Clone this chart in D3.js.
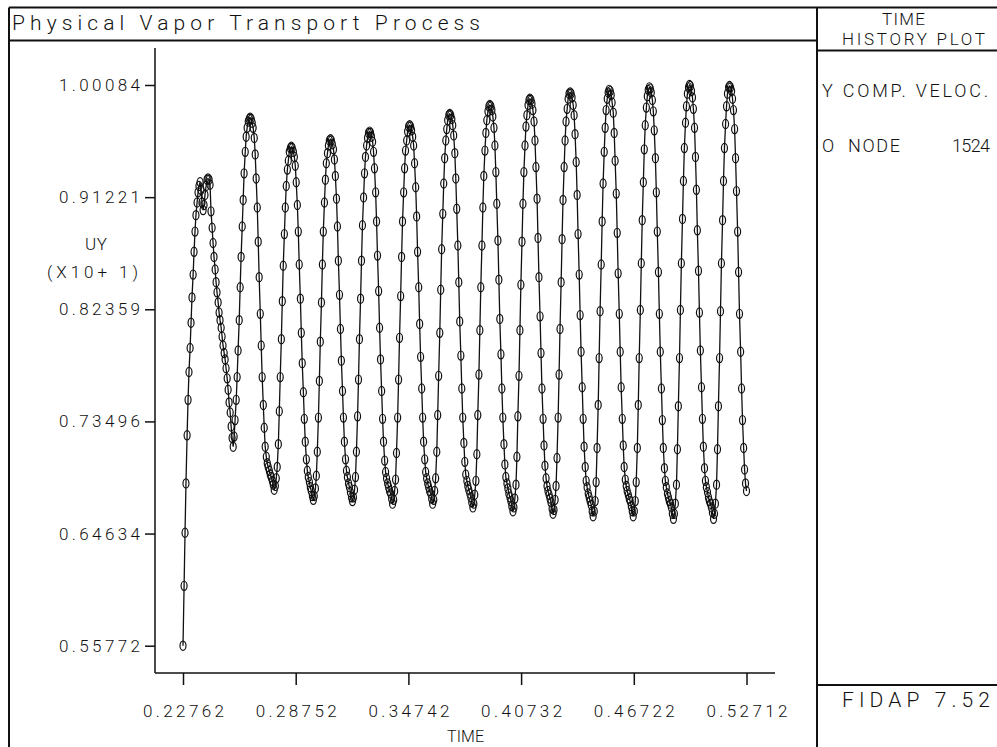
<!DOCTYPE html>
<html>
<head>
<meta charset="utf-8">
<script src="https://cdn.jsdelivr.net/npm/d3@7"></script>
<style>
  html, body { margin: 0; padding: 0; background: #fff; }
  svg { display: block; }
</style>
</head>
<body>
<div id="chart"></div>
<script>
// ---- data ----
const TITLE = "Physical Vapor Transport Process";
const Y_TICKS = [0.55772, 0.64634, 0.73496, 0.82359, 0.91221, 1.00084];
const Y_TICK_LABELS = ["0.55772", "0.64634", "0.73496", "0.82359", "0.91221", "1.00084"];
const X_TICKS = [0.22762, 0.28752, 0.34742, 0.40732, 0.46722, 0.52712];
const X_TICK_LABELS = ["0.22762", "0.28752", "0.34742", "0.40732", "0.46722", "0.52712"];

// sample times
const TIME = [
  0.22762,0.2282,0.2287,0.2292,0.2298,0.2303,0.2308,0.2314,0.2319,0.2324,
  0.2330,0.2335,0.2340,0.2345,0.2351,0.2356,0.2361,0.2367,0.2372,0.2377,
  0.2383,0.2388,0.2393,0.2399,0.2404,0.2409,0.2415,0.2420,0.2425,0.2431,
  0.2436,0.2441,0.2447,0.2452,0.2457,0.2463,0.2468,0.2473,0.2479,0.2484,
  0.2489,0.2495,0.2500,0.2505,0.2511,0.2516,0.2521,0.2527,0.2532,0.2537,
  0.2543,0.2548,0.2553,0.2559,0.2564,0.2569,0.2575,0.2580,0.2585,0.2591,
  0.2596,0.2601,0.2607,0.2612,0.2617,0.2623,0.2628,0.2633,0.2639,0.2644,
  0.2649,0.2655,0.2660,0.2665,0.2671,0.2676,0.2681,0.2687,0.2692,0.2697,
  0.2703,0.2708,0.2713,0.2719,0.2724,0.2729,0.2735,0.2740,0.2745,0.2751,
  0.2756,0.2761,0.2767,0.2772,0.2777,0.2783,0.2788,0.2793,0.2799,0.2804,
  0.2809,0.2815,0.2820,0.2825,0.2831,0.2836,0.2841,0.2847,0.2852,0.2857,
  0.2863,0.2868,0.2873,0.2878,0.2884,0.2889,0.2894,0.2900,0.2905,0.2910,
  0.2916,0.2921,0.2926,0.2932,0.2937,0.2942,0.2948,0.2953,0.2958,0.2964,
  0.2969,0.2974,0.2980,0.2985,0.2990,0.2996,0.3001,0.3006,0.3012,0.3017,
  0.3022,0.3028,0.3033,0.3038,0.3044,0.3049,0.3054,0.3060,0.3065,0.3070,
  0.3076,0.3081,0.3086,0.3092,0.3097,0.3102,0.3108,0.3113,0.3118,0.3124,
  0.3129,0.3134,0.3140,0.3145,0.3150,0.3156,0.3161,0.3166,0.3172,0.3177,
  0.3182,0.3188,0.3193,0.3198,0.3204,0.3209,0.3214,0.3220,0.3225,0.3230,
  0.3236,0.3241,0.3246,0.3252,0.3257,0.3262,0.3268,0.3273,0.3278,0.3284,
  0.3289,0.3294,0.3300,0.3305,0.3310,0.3316,0.3321,0.3326,0.3332,0.3337,
  0.3342,0.3348,0.3353,0.3358,0.3364,0.3369,0.3374,0.3380,0.3385,0.3390,
  0.3396,0.3401,0.3406,0.3411,0.3417,0.3422,0.3427,0.3433,0.3438,0.3443,
  0.3449,0.3454,0.3459,0.3465,0.3470,0.3475,0.3481,0.3486,0.3491,0.3497,
  0.3502,0.3507,0.3513,0.3518,0.3523,0.3529,0.3534,0.3539,0.3545,0.3550,
  0.3555,0.3561,0.3566,0.3571,0.3577,0.3582,0.3587,0.3593,0.3598,0.3603,
  0.3609,0.3614,0.3619,0.3625,0.3630,0.3635,0.3641,0.3646,0.3651,0.3657,
  0.3662,0.3667,0.3673,0.3678,0.3683,0.3689,0.3694,0.3699,0.3705,0.3710,
  0.3715,0.3721,0.3726,0.3731,0.3737,0.3742,0.3747,0.3753,0.3758,0.3763,
  0.3769,0.3774,0.3779,0.3785,0.3790,0.3795,0.3801,0.3806,0.3811,0.3817,
  0.3822,0.3827,0.3833,0.3838,0.3843,0.3849,0.3854,0.3859,0.3865,0.3870,
  0.3875,0.3881,0.3886,0.3891,0.3897,0.3902,0.3907,0.3913,0.3918,0.3923,
  0.3929,0.3934,0.3939,0.3944,0.3950,0.3955,0.3960,0.3966,0.3971,0.3976,
  0.3982,0.3987,0.3992,0.3998,0.4003,0.4008,0.4014,0.4019,0.4024,0.4030,
  0.4035,0.4040,0.4046,0.4051,0.4056,0.4062,0.4067,0.4072,0.4078,0.4083,
  0.4088,0.4094,0.4099,0.4104,0.4110,0.4115,0.4120,0.4126,0.4131,0.4136,
  0.4142,0.4147,0.4152,0.4158,0.4163,0.4168,0.4174,0.4179,0.4184,0.4190,
  0.4195,0.4200,0.4206,0.4211,0.4216,0.4222,0.4227,0.4232,0.4238,0.4243,
  0.4248,0.4254,0.4259,0.4264,0.4270,0.4275,0.4280,0.4286,0.4291,0.4296,
  0.4302,0.4307,0.4312,0.4318,0.4323,0.4328,0.4334,0.4339,0.4344,0.4350,
  0.4355,0.4360,0.4366,0.4371,0.4376,0.4382,0.4387,0.4392,0.4398,0.4403,
  0.4408,0.4414,0.4419,0.4424,0.4430,0.4435,0.4440,0.4446,0.4451,0.4456,
  0.4462,0.4467,0.4472,0.4477,0.4483,0.4488,0.4493,0.4499,0.4504,0.4509,
  0.4515,0.4520,0.4525,0.4531,0.4536,0.4541,0.4547,0.4552,0.4557,0.4563,
  0.4568,0.4573,0.4579,0.4584,0.4589,0.4595,0.4600,0.4605,0.4611,0.4616,
  0.4621,0.4627,0.4632,0.4637,0.4643,0.4648,0.4653,0.4659,0.4664,0.4669,
  0.4675,0.4680,0.4685,0.4691,0.4696,0.4701,0.4707,0.4712,0.4717,0.4723,
  0.4728,0.4733,0.4739,0.4744,0.4749,0.4755,0.4760,0.4765,0.4771,0.4776,
  0.4781,0.4787,0.4792,0.4797,0.4803,0.4808,0.4813,0.4819,0.4824,0.4829,
  0.4835,0.4840,0.4845,0.4851,0.4856,0.4861,0.4867,0.4872,0.4877,0.4883,
  0.4888,0.4893,0.4899,0.4904,0.4909,0.4915,0.4920,0.4925,0.4931,0.4936,
  0.4941,0.4947,0.4952,0.4957,0.4963,0.4968,0.4973,0.4979,0.4984,0.4989,
  0.4995,0.5000,0.5005,0.5010,0.5016,0.5021,0.5026,0.5032,0.5037,0.5042,
  0.5048,0.5053,0.5058,0.5064,0.5069,0.5074,0.5080,0.5085,0.5090,0.5096,
  0.5101,0.5106,0.5112,0.5117,0.5122,0.5128,0.5133,0.5138,0.5144,0.5149,
  0.5154,0.5160,0.5165,0.5170,0.5176,0.5181,0.5186,0.5192,0.5197,0.5202,
  0.5208,0.5213,0.5218,0.5224,0.5229,0.5234,0.5240,0.5245,0.5250,0.5256,
  0.5261,0.5266,0.52712
];

// UY (x10) at node 1524, one line per swing
const UY = [
  // start-up transient, first double peak, first dip
  0.55772,0.605,0.647,0.686,0.724,0.752,0.774,0.793,0.813,0.833,
  0.851,0.869,0.885,0.898,0.908,0.916,0.921,0.924,0.918,0.908,
  0.902,0.906,0.914,0.921,0.926,0.927,0.926,0.922,0.901,0.888,
  0.876,0.865,0.855,0.845,0.837,0.829,0.821,0.815,0.809,0.802,
  0.795,0.789,0.784,0.777,0.769,0.760,0.750,0.742,0.731,0.722,
  0.715,0.723,0.736,0.752,0.770,0.791,0.815,0.841,0.865,0.889,
  0.910,0.931,0.948,0.960,0.967,0.972,0.974,0.975,
  0.974,0.971,0.967,0.959,0.946,0.927,0.904,0.877,0.849,0.820,0.795,0.770,0.748,0.730,0.715,0.707,0.702,0.699,0.696,0.693,0.691,0.688,0.685,0.681,
  0.684,0.690,0.699,0.717,0.743,0.770,0.800,0.830,0.858,0.883,0.904,0.921,0.934,0.941,0.948,0.951,0.952,
  0.951,0.948,0.944,0.937,0.924,0.906,0.885,0.859,0.832,0.805,0.781,0.758,0.737,0.719,0.705,0.696,0.691,0.687,0.683,0.680,0.676,0.673,
  0.676,0.682,0.692,0.711,0.738,0.767,0.798,0.829,0.859,0.885,0.908,0.926,0.939,0.947,0.953,0.957,0.958,
  0.957,0.954,0.950,0.942,0.929,0.911,0.889,0.862,0.835,0.808,0.783,0.759,0.738,0.719,0.705,0.696,0.691,0.686,0.683,0.679,0.675,0.672,
  0.675,0.681,0.691,0.711,0.739,0.768,0.800,0.832,0.862,0.890,0.912,0.931,0.944,0.953,0.959,0.963,0.964,
  0.963,0.960,0.956,0.948,0.935,0.916,0.893,0.866,0.838,0.809,0.784,0.759,0.737,0.719,0.704,0.695,0.690,0.686,0.683,0.680,0.678,0.674,0.670,
  0.673,0.680,0.689,0.710,0.738,0.768,0.801,0.834,0.865,0.893,0.916,0.935,0.949,0.957,0.964,0.968,0.969,
  0.968,0.965,0.960,0.953,0.939,0.920,0.897,0.869,0.841,0.812,0.786,0.761,0.738,0.719,0.705,0.695,0.690,0.686,0.683,0.680,0.678,0.674,0.670,
  0.673,0.680,0.690,0.711,0.740,0.771,0.805,0.839,0.871,0.899,0.923,0.943,0.957,0.966,0.973,0.977,0.978,
  0.977,0.974,0.969,0.961,0.947,0.927,0.903,0.874,0.845,0.814,0.787,0.761,0.738,0.718,0.703,0.693,0.688,0.684,0.681,0.678,0.675,0.671,0.667,
  0.670,0.677,0.688,0.709,0.740,0.772,0.807,0.841,0.874,0.904,0.929,0.949,0.963,0.973,0.980,0.984,0.985,
  0.984,0.981,0.976,0.967,0.953,0.932,0.907,0.878,0.847,0.816,0.788,0.761,0.738,0.717,0.701,0.691,0.686,0.682,0.678,0.675,0.672,0.668,0.664,
  0.667,0.674,0.685,0.707,0.739,0.771,0.807,0.843,0.877,0.907,0.932,0.953,0.968,0.977,0.985,0.989,0.990,
  0.989,0.986,0.981,0.972,0.957,0.936,0.911,0.880,0.849,0.818,0.789,0.761,0.737,0.716,0.700,0.690,0.684,0.680,0.677,0.674,0.671,0.666,0.662,
  0.665,0.673,0.684,0.706,0.738,0.772,0.808,0.845,0.879,0.910,0.936,0.957,0.972,0.982,0.990,0.994,0.995,
  0.994,0.991,0.985,0.977,0.962,0.940,0.914,0.883,0.851,0.819,0.790,0.762,0.737,0.715,0.699,0.688,0.683,0.678,0.675,0.672,0.669,0.664,0.660,
  0.664,0.672,0.687,0.714,0.748,0.785,0.822,0.859,0.893,0.923,0.948,0.967,0.981,0.990,0.995,0.997,
  0.996,0.993,0.987,0.979,0.963,0.941,0.915,0.884,0.852,0.820,0.790,0.762,0.737,0.716,0.699,0.689,0.684,0.680,0.677,0.674,0.672,0.668,0.664,0.660,
  0.664,0.672,0.687,0.714,0.748,0.785,0.823,0.860,0.894,0.924,0.950,0.969,0.983,0.992,0.997,0.999,
  0.998,0.995,0.989,0.980,0.965,0.943,0.916,0.885,0.853,0.820,0.790,0.761,0.736,0.714,0.698,0.688,0.683,0.678,0.675,0.672,0.670,0.667,0.662,0.658,
  0.662,0.670,0.685,0.713,0.747,0.785,0.823,0.860,0.895,0.925,0.951,0.971,0.984,0.994,0.999,1.0008,
  1.000,0.996,0.991,0.982,0.967,0.944,0.918,0.886,0.854,0.821,0.791,0.762,0.737,0.715,0.698,0.688,0.683,0.679,0.675,0.672,0.670,0.667,0.663,0.658,
  0.662,0.670,0.685,0.713,0.747,0.785,0.822,0.860,0.894,0.925,0.951,0.970,0.984,0.994,0.999,1.000,
  0.999,0.996,0.990,0.981,0.966,0.943,0.917,0.885,0.853,0.820,0.790,0.761,0.736,0.714,0.697,0.686,0.680
];

// ---- layout ----
const W = 997, H = 747;
const INK = "#111";
const FONT = "Roboto, 'Liberation Sans', Arial, sans-serif";

const svg = d3.select("#chart").append("svg")
    .attr("width", W)
    .attr("height", H);

svg.append("rect").attr("width", W).attr("height", H).attr("fill", "#fff");

// frame
let frame = svg.append("g")
    .attr("stroke", INK)
    .attr("stroke-width", 2)
    .attr("fill", "none");
frame.append("line").attr("x1", 9).attr("y1", 7.5).attr("x2", W).attr("y2", 7.5);
frame.append("line").attr("x1", 9).attr("y1", 7.5).attr("x2", 9).attr("y2", H);
frame.append("line").attr("x1", 9).attr("y1", 40.5).attr("x2", 817).attr("y2", 40.5);
frame.append("line").attr("x1", 817).attr("y1", 7.5).attr("x2", 817).attr("y2", H);
frame.append("line").attr("x1", 817).attr("y1", 50.5).attr("x2", W).attr("y2", 50.5);
frame.append("line").attr("x1", 817).attr("y1", 685).attr("x2", W).attr("y2", 685);

// plotter-style lettering: thin strokes, open letter spacing
function letter(sel, size, len) {
    return sel
        .attr("font-family", FONT)
        .attr("font-weight", 300)
        .attr("font-size", size)
        .attr("fill", INK)
        .attr("textLength", len)
        .attr("lengthAdjust", "spacing");
}
function label(txt, x, y, size, len) {
    return letter(svg.append("text").attr("x", x).attr("y", y).text(txt), size, len);
}

label(TITLE, 12, 30, 21, 468);
label("TIME", 882, 25, 17, 43);
label("HISTORY PLOT", 842, 45, 17, 143);
label("Y COMP. VELOC.", 822, 97, 18, 166);
label("O", 822, 152, 18, 12);
label("NODE", 848, 152, 18, 52);
label("1524", 952, 152, 18, 38);
label("FIDAP 7.52", 842, 707, 21, 148);

// axis titles
label("UY", 85, 250, 17, 22);
label("(X10+ 1)", 47, 278, 17, 91);
label("TIME", 447, 742, 16, 37);

// ---- scales ----
const x = d3.scaleLinear()
    .domain([X_TICKS[0], X_TICKS[X_TICKS.length - 1]])
    .range([183, 746.5]);
const y = d3.scaleLinear()
    .domain([Y_TICKS[0], Y_TICKS[Y_TICKS.length - 1]])
    .range([645.7, 85]);

const AX_LEFT = 155, AX_BOTTOM = 673;

// axes
let yAxis = svg.append("g")
    .attr("transform", `translate(${AX_LEFT},0)`)
    .call(d3.axisLeft(y)
        .tickValues(Y_TICKS)
        .tickFormat((d, i) => Y_TICK_LABELS[i])
        .tickSize(10)
        .tickPadding(5)
        .tickSizeOuter(0));
yAxis.select(".domain").remove();

let xAxis = svg.append("g")
    .attr("transform", `translate(0,${AX_BOTTOM})`)
    .call(d3.axisBottom(x)
        .tickValues(X_TICKS)
        .tickFormat((d, i) => X_TICK_LABELS[i])
        .tickSize(12)
        .tickPadding(20)
        .tickSizeOuter(0));
xAxis.select(".domain").remove();

[yAxis, xAxis].forEach(g => {
    g.selectAll(".tick line").attr("stroke", INK).attr("stroke-width", 1.5);
    letter(g.selectAll(".tick text"), 17, 81);
});

// axis lines
svg.append("line")
    .attr("x1", AX_LEFT).attr("y1", 48)
    .attr("x2", AX_LEFT).attr("y2", AX_BOTTOM)
    .attr("stroke", INK).attr("stroke-width", 1.5);
svg.append("line")
    .attr("x1", AX_LEFT).attr("y1", AX_BOTTOM)
    .attr("x2", 775).attr("y2", AX_BOTTOM)
    .attr("stroke", INK).attr("stroke-width", 1.5);

// ---- series ----
const n = Math.min(TIME.length, UY.length);
if (TIME.length !== UY.length) console.log(`length mismatch: ${TIME.length} vs ${UY.length}`);
const points = d3.range(n).map(i => ({ t: TIME[i], v: UY[i] }));

const line = d3.line()
    .x(d => x(d.t))
    .y(d => y(d.v));

svg.append("path")
    .datum(points)
    .attr("d", line)
    .attr("fill", "none")
    .attr("stroke", INK)
    .attr("stroke-width", 1.3);

svg.append("g")
    .selectAll("ellipse")
    .data(points)
    .enter()
    .append("ellipse")
    .attr("cx", d => x(d.t))
    .attr("cy", d => y(d.v))
    .attr("rx", 3)
    .attr("ry", 4.6)
    .attr("fill", "none")
    .attr("stroke", INK)
    .attr("stroke-width", 1.2);
</script>
</body>
</html>
